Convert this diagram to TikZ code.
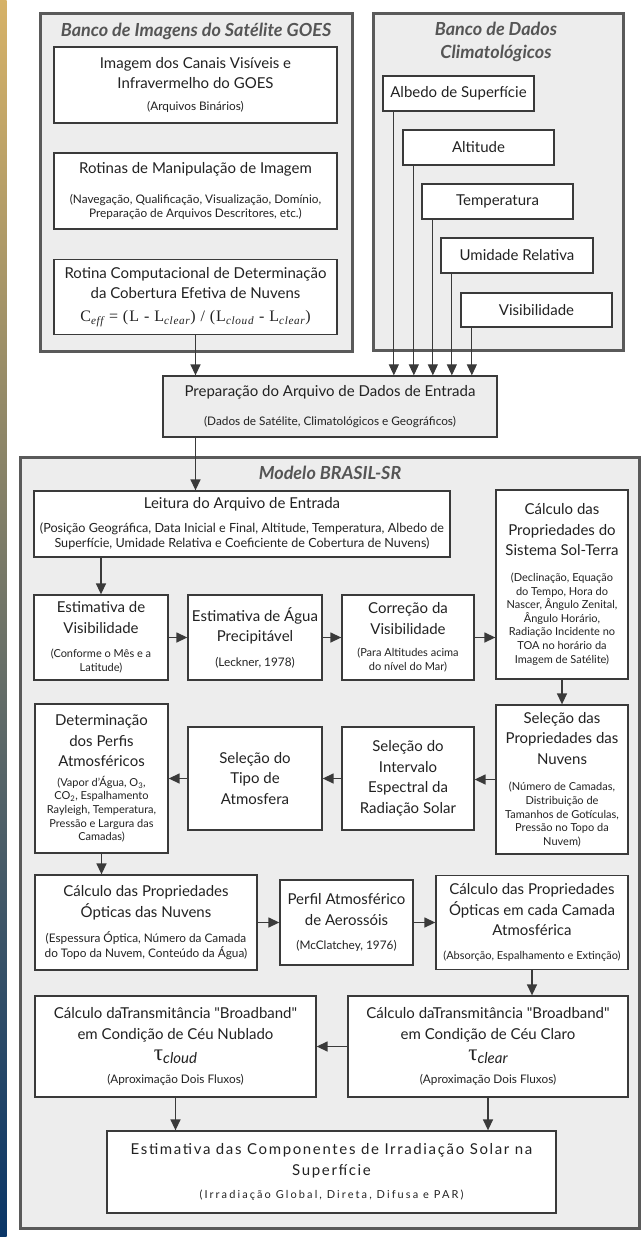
\documentclass[tikz,border=0pt]{standalone}
\usepackage{fontspec}
\setmainfont{Lato}
\newfontfamily\serifrm{Liberation Serif}
\usepackage{xcolor}
\usepackage{tikz}
\usetikzlibrary{positioning}
\usetikzlibrary{arrows.meta}

\definecolor{framegray}{HTML}{5A5A5A}
\definecolor{panelgray}{HTML}{EDEDED}
\definecolor{linegray}{HTML}{3A3A3A}
\definecolor{inkgray}{HTML}{222222}
\definecolor{titlegray}{HTML}{555555}
\definecolor{striptop}{RGB}{214,178,104}
\definecolor{stripmid}{RGB}{112,130,140}
\definecolor{stripbot}{RGB}{10,54,104}

\frenchspacing
\newcommand{\bigtxt}{\fontsize{15}{20.5}\selectfont}
\newcommand{\subtxt}{\fontsize{11}{13.6}\selectfont}
\newcommand{\widetxt}{\fontsize{11.8}{14.4}\selectfont}
\newcommand{\titletxt}{\fontsize{18}{23}\selectfont\bfseries\itshape}
\newcommand{\subline}[2][10pt]{\par\vspace{#1}{\subtxt #2\par}}
\newcommand{\wideline}[2][10pt]{\par\vspace{#1}{\widetxt #2\par}}
\newcommand{\tauof}[1]{{\serifrm\fontsize{23}{23}\selectfont τ}{\itshape\raisebox{-3pt}{#1}}}
\newcommand{\sq}{{\addfontfeature{Ligatures=TeXOff}"}}

\begin{document}
\begin{tikzpicture}[x=1pt,y=-1pt]
    \tikzset{panel/.style={draw=framegray,line width=3pt,fill=panelgray,inner sep=0pt}}
    \tikzset{paneltitle/.style={font=\titletxt,text=titlegray,align=center,inner sep=0pt}}
    \tikzset{block/.style={draw=linegray,line width=1.3pt,fill=white,text=inkgray,inner sep=0pt,align=flush center,font=\bigtxt}}
    \tikzset{sz/.style 2 args={minimum width=#1,minimum height=#2,text width=#1}}
    \tikzset{edge/.style={-{Triangle[length=11pt,width=10pt]},draw=linegray,line width=1.4pt}}
    \tikzset{feed/.style={edge,line width=1pt}}

    \useasboundingbox (0,0) rectangle (642,1237);
    \fill[white] (0,0) rectangle (642,1237);
    \shade[top color=striptop,middle color=stripmid,bottom color=stripbot] (0,0) rectangle (6.5,1237);

    % satellite panel
    \node[panel,minimum width=312pt,minimum height=338pt] (goes) at (196,182) {};
    \node[paneltitle] (goestitle) at (196,31) {Banco de Imagens do Satélite GOES};
    \node[block,sz={283pt}{76pt}] (img) at (195.5,85)
        {Imagem dos Canais Visíveis e\\Infravermelho do GOES\wideline[8pt]{(Arquivos Binários)}};
    \node[block,sz={283pt}{76pt}] (rot) at (195.5,191)
        {Rotinas de Manipulação de Imagem\wideline[16pt]{(Navegação, Qualificação, Visualização, Domínio,\\Preparação de Arquivos Descritores, etc.)}};
    \node[block,sz={283pt}{75pt}] (cob) at (195.5,297)
        {Rotina Computacional de Determinação\\da Cobertura Efetiva de Nuvens\par\vspace{3pt}%
        {\serifrm\fontsize{16}{20}\selectfont\addfontfeature{LetterSpace=6}C\textsubscript{\itshape eff} = (L - L\textsubscript{\itshape clear}) / (L\textsubscript{\itshape cloud} - L\textsubscript{\itshape clear})\par}};

    % climatological panel
    \node[panel,minimum width=250pt,minimum height=337pt] (clim) at (498,181.5) {};
    \node[paneltitle] (climtitle) at (496,42) {Banco de Dados\\Climatológicos};
    \node[block,sz={151pt}{35pt}] (alb) at (458.5,93.5) {Albedo de Superfície};
    \node[block,sz={151pt}{35pt}] (alt) at (478.5,147.5) {Altitude};
    \node[block,sz={151pt}{35pt}] (temp) at (497.5,201.5) {Temperatura};
    \node[block,sz={152pt}{35pt}] (umid) at (517,255.5) {Umidade Relativa};
    \node[block,sz={151pt}{34pt}] (vis) at (536.5,310) {Visibilidade};

    \node[block,fill=panelgray,sz={334pt}{61pt}] (prep) at (330,406.5)
        {Preparação do Arquivo de Dados de Entrada\wideline[15pt]{(Dados de Satélite, Climatológicos e Geográficos)}};

    \draw[edge] (cob.south) -- (cob.south |- prep.north);
    \draw[feed] ([xshift=11.5pt]alb.south west) -- ([xshift=11.5pt]alb.south west |- prep.north);
    \draw[feed] ([xshift=11.5pt]alt.south west) -- ([xshift=11.5pt]alt.south west |- prep.north);
    \draw[feed] ([xshift=11.5pt]temp.south west) -- ([xshift=11.5pt]temp.south west |- prep.north);
    \draw[feed] ([xshift=11.5pt]umid.south west) -- ([xshift=11.5pt]umid.south west |- prep.north);
    \draw[feed] ([xshift=11.5pt]vis.south west) -- ([xshift=11.5pt]vis.south west |- prep.north);

    % model panel
    \node[panel,minimum width=619pt,minimum height=771pt] (model) at (329.5,842.5) {};
    \node[paneltitle] (modeltitle) at (330,473) {Modelo BRASIL-SR};

    \node[block,sz={416pt}{66pt}] (leit) at (242,524)
        {Leitura do Arquivo de Entrada\par\vspace{9pt}%
        {\fontsize{12.6}{15}\selectfont (Posição Geográfica, Data Inicial e Final, Altitude, Temperatura, Albedo de\\Superfície, Umidade Relativa e Coeficiente de Cobertura de Nuvens)\par}};
    \node[block,sz={132pt}{189pt}] (solterra) at (562,584.5)
        {Cálculo das\\Propriedades do\\Sistema Sol-Terra\subline[12pt]{(Declinação, Equação\\do Tempo, Hora do\\Nascer, Ângulo Zenital,\\Ângulo Horário,\\Radiação Incidente no\\TOA no horário da\\Imagem de Satélite)}};
    \node[block,sz={134pt}{85pt}] (estvis) at (101,637.5)
        {Estimativa de\\Visibilidade\subline[11pt]{(Conforme o Mês e a\\Latitude)}};
    \node[block,sz={134pt}{85pt}] (agua) at (255,637.5)
        {Estimativa de Água\\Precipitável\wideline{(Leckner, 1978)}};
    \node[block,sz={132pt}{85pt}] (corr) at (408,637.5)
        {Correção da\\Visibilidade\subline[9pt]{(Para Altitudes acima\\do nível do Mar)}};

    \node[block,sz={132pt}{149pt}] (nuv) at (562,779.5)
        {Seleção das\\Propriedades das\\Nuvens\subline[13pt]{(Número de Camadas,\\Distribuição de\\Tamanhos de Gotículas,\\Pressão no Topo da\\Nuvem)}};
    \node[block,sz={132pt}{103pt}] (interv) at (408,778.5)
        {Seleção do\\Intervalo\\Espectral da\\Radiação Solar};
    \node[block,sz={134pt}{103pt}] (tipo) at (255,778.5)
        {Seleção do\\Tipo de\\Atmosfera};
    \node[block,sz={133pt}{149pt}] (perfis) at (101.5,778.5)
        {Determinação\\dos Perfis\\Atmosféricos\subline[6pt]{(Vapor d'Água, O\textsubscript{3},\\CO\textsubscript{2}, Espalhamento\\Rayleigh, Temperatura,\\Pressão e Largura das\\Camadas)}};

    \node[block,sz={222pt}{95pt}] (optnuv) at (146,922.5)
        {Cálculo das Propriedades\\Ópticas das Nuvens\wideline[11pt]{(Espessura Óptica, Número da Camada\\do Topo da Nuvem, Conteúdo da Água)}};
    \node[block,sz={133pt}{85pt}] (aeros) at (346.5,922.5)
        {Perfil Atmosférico\\de Aerossóis\wideline{(McClatchey, 1976)}};
    \node[block,sz={192pt}{94pt}] (camada) at (532,922.5)
        {Cálculo das Propriedades\\Ópticas em cada Camada\\Atmosférica\subline{(Absorção, Espalhamento e Extinção)}};

    \node[block,sz={281pt}{101pt}] (nublado) at (175.5,1046.5)
        {Cálculo daTransmitância \sq Broadband\sq\\em Condição de Céu Nublado\par\vspace{1pt}\tauof{cloud}\wideline[8pt]{(Aproximação Dois Fluxos)}};
    \node[block,sz={280pt}{101pt}] (claro) at (488,1046.5)
        {Cálculo daTransmitância \sq Broadband\sq\\em Condição de Céu Claro\par\vspace{1pt}\tauof{clear}\wideline[8pt]{(Aproximação Dois Fluxos)}};

    \node[block,sz={449pt}{82pt}] (final) at (331.5,1172)
        {\addfontfeature{LetterSpace=11}Estimativa das Componentes de Irradiação Solar na\\Superfície\subline{\addfontfeature{LetterSpace=19}(Irradiação Global, Direta, Difusa e PAR)}};

    \draw[edge] (prep.south -| cob.south) -- (leit.north -| cob.south);
    \draw[edge] (estvis.north |- leit.south) -- (estvis.north);
    \draw[edge] (estvis.east) -- (agua.west);
    \draw[edge] (agua.east) -- (corr.west);
    \draw[edge] (corr.east) -- (corr.east -| solterra.west);
    \draw[edge] (solterra.south) -- (nuv.north);
    \draw[edge] (nuv.west) -- (nuv.west -| interv.east);
    \draw[edge] (interv.west) -- (tipo.east);
    \draw[edge] (tipo.west) -- (perfis.east);
    \draw[edge] (perfis.south) -- (perfis.south |- optnuv.north);
    \draw[edge] (optnuv.east) -- (aeros.west);
    \draw[edge] (aeros.east) -- (camada.west);
    \draw[edge] (camada.south) -- (camada.south |- claro.north);
    \draw[edge] (claro.west) -- (nublado.east);
    \draw[edge] (nublado.south) -- (nublado.south |- final.north);
    \draw[edge] (claro.south) -- (claro.south |- final.north);
\end{tikzpicture}
\end{document}
